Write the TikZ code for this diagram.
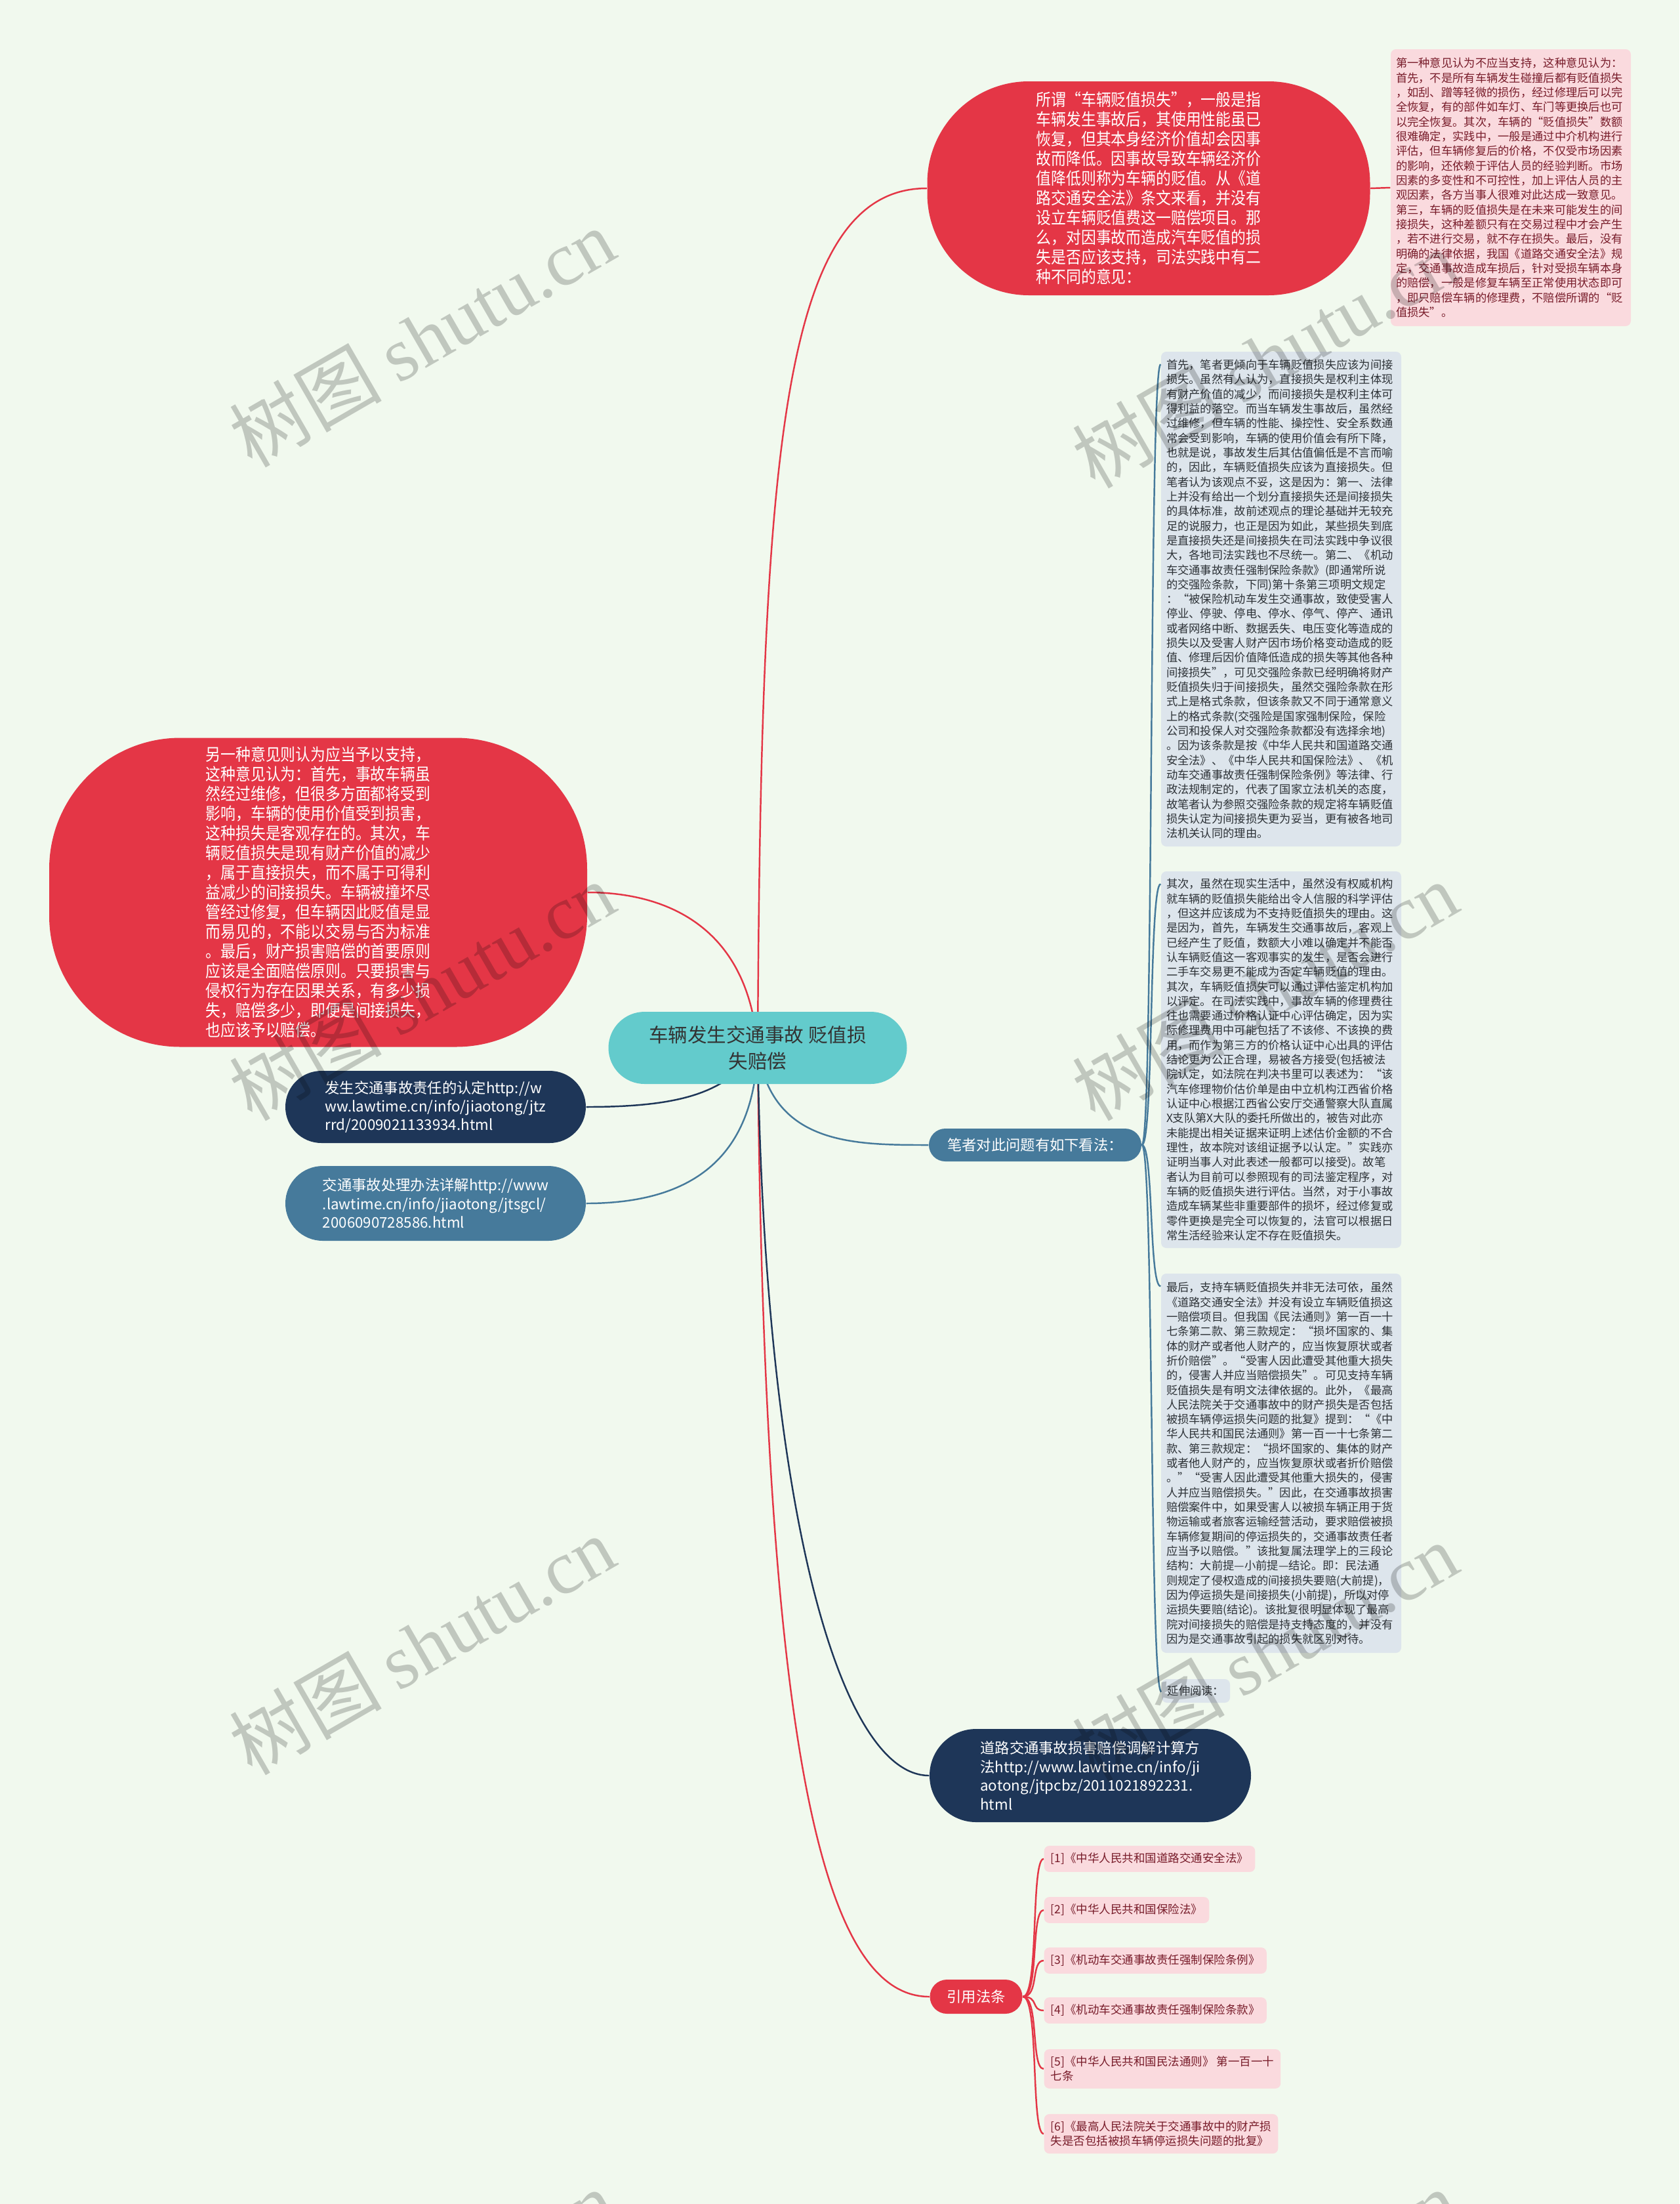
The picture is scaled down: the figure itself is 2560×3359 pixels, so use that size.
\documentclass[tikz,border=0pt]{standalone}
\usepackage{fontspec}
\setmainfont{Noto Sans CJK SC}
\newfontfamily\narrowfont{Noto Sans CJK SC}[FakeStretch=0.89]
\newfontfamily\wmfont{Liberation Serif}
\usetikzlibrary{calc}

\definecolor{bgcol}{RGB}{241,249,238}
\definecolor{mapred}{RGB}{228,54,70}
\definecolor{mapteal}{RGB}{99,203,204}
\definecolor{mapnavy}{RGB}{30,54,88}
\definecolor{mapsteel}{RGB}{70,122,155}
\definecolor{notegrey}{RGB}{221,229,236}
\definecolor{notepink}{RGB}{250,218,222}
\definecolor{pinktext}{RGB}{120,28,42}
\definecolor{greytext}{RGB}{45,50,55}

\pgfdeclarelayer{bg}
\pgfsetlayers{bg,main}

\tikzset{
  bubble/.style={fill=mapred, text=white, align=left, inner sep=0pt,
    font=\narrowfont\fontsize{7.3pt}{8.54pt}\selectfont},
  pill/.style={text=white, align=left, inner sep=0pt,
    font=\fontsize{6.35pt}{8.1pt}\selectfont},
  note/.style={fill=notegrey, text=greytext, rounded corners=0.8mm, align=left,
    inner xsep=0.8mm, inner ysep=0pt, text width=35mm,
    font=\fontsize{4.92pt}{6.35pt}\selectfont},
  lawbox/.style={fill=notepink, text=pinktext, rounded corners=0.8mm, align=left,
    anchor=west, inner xsep=1mm, inner ysep=1.1mm,
    font=\fontsize{4.98pt}{6.2pt}\selectfont},
  link/.style={line width=0.7pt},
  wmark/.style={rotate=30, text=black, opacity=0.2,
    font=\fontsize{33pt}{33pt}\selectfont}
}

\begin{document}
\begin{tikzpicture}[x=0.1mm, y=-0.1mm]
    \useasboundingbox (0,0) rectangle (2560,3359);
    \begin{pgfonlayer}{bg}
      \fill[bgcol] (0,0) rectangle (2560,3359);
    \end{pgfonlayer}

    % Topic
    \node[fill=mapteal, text=black!80, minimum width=45.5mm, minimum height=11mm,
      rounded corners=5.5mm, align=center, inner sep=0pt,
      font=\fontsize{8.4pt}{11.4pt}\selectfont] (topic) at (1155,1597)
      {车辆发生交通事故 贬值损\\失赔偿};

    % First opinion
    \node[bubble, minimum width=67.5mm, minimum height=32.6mm, rounded corners=15.5mm] (opinA) at (1751,287)
      {所谓“车辆贬值损失”，一般是指\\车辆发生事故后，其使用性能虽已\\恢复，但其本身经济价值却会因事\\故而降低。因事故导致车辆经济价\\值降低则称为车辆的贬值。从《道\\路交通安全法》条文来看，并没有\\设立车辆贬值费这一赔偿项目。那\\么，对因事故而造成汽车贬值的损\\失是否应该支持，司法实践中有二\\种不同的意见：};
    \node[note, fill=notepink, text=pinktext, minimum height=42.2mm] (opinAnote) at (2303,286)
      {第一种意见认为不应当支持，这种意见认为：\\首先，不是所有车辆发生碰撞后都有贬值损失\\，如刮、蹭等轻微的损伤，经过修理后可以完\\全恢复，有的部件如车灯、车门等更换后也可\\以完全恢复。其次，车辆的“贬值损失”数额\\很难确定，实践中，一般是通过中介机构进行\\评估，但车辆修复后的价格，不仅受市场因素\\的影响，还依赖于评估人员的经验判断。市场\\因素的多变性和不可控性，加上评估人员的主\\观因素，各方当事人很难对此达成一致意见。\\第三，车辆的贬值损失是在未来可能发生的间\\接损失，这种差额只有在交易过程中才会产生\\，若不进行交易，就不存在损失。最后，没有\\明确的法律依据，我国《道路交通安全法》规\\定，交通事故造成车损后，针对受损车辆本身\\的赔偿，一般是修复车辆至正常使用状态即可\\，即只赔偿车辆的修理费，不赔偿所谓的“贬\\值损失”。};

    % Second opinion
    \node[bubble, minimum width=82mm, minimum height=47.1mm, rounded corners=20mm] (opinB) at (485,1360)
      {另一种意见则认为应当予以支持，\\这种意见认为：首先，事故车辆虽\\然经过维修，但很多方面都将受到\\影响，车辆的使用价值受到损害，\\这种损失是客观存在的。其次，车\\辆贬值损失是现有财产价值的减少\\，属于直接损失，而不属于可得利\\益减少的间接损失。车辆被撞坏尽\\管经过修复，但车辆因此贬值是显\\而易见的，不能以交易与否为标准\\。最后，财产损害赔偿的首要原则\\应该是全面赔偿原则。只要损害与\\侵权行为存在因果关系，有多少损\\失，赔偿多少，即便是间接损失，\\也应该予以赔偿。};

    % Links
    \node[pill, fill=mapnavy, minimum width=45.8mm, minimum height=11mm, rounded corners=5.5mm] (linkA) at (664,1687)
      {发生交通事故责任的认定http://w\\ww.lawtime.cn/info/jiaotong/jtz\\rrd/2009021133934.html};
    \node[pill, fill=mapsteel, minimum width=45.8mm, minimum height=11.4mm, rounded corners=5.7mm] (linkB) at (664,1834)
      {交通事故处理办法详解http://www\\.lawtime.cn/info/jiaotong/jtsgcl/\\2006090728586.html};
    \node[pill, fill=mapnavy, minimum width=49mm, minimum height=14.2mm, rounded corners=7.1mm] (linkC) at (1662,2706)
      {道路交通事故损害赔偿调解计算方\\法http://www.lawtime.cn/info/ji\\aotong/jtpcbz/2011021892231.\\html};

    % Author's view
    \node[pill, fill=mapsteel, minimum width=32.4mm, minimum height=5mm, rounded corners=2.5mm] (view) at (1578,1745)
      {笔者对此问题有如下看法：};
    \node[note, minimum height=75.4mm] (noteA) at (1953,913)
      {首先，笔者更倾向于车辆贬值损失应该为间接\\损失。虽然有人认为，直接损失是权利主体现\\有财产价值的减少，而间接损失是权利主体可\\得利益的落空。而当车辆发生事故后，虽然经\\过维修，但车辆的性能、操控性、安全系数通\\常会受到影响，车辆的使用价值会有所下降，\\也就是说，事故发生后其估值偏低是不言而喻\\的，因此，车辆贬值损失应该为直接损失。但\\笔者认为该观点不妥，这是因为：第一、法律\\上并没有给出一个划分直接损失还是间接损失\\的具体标准，故前述观点的理论基础并无较充\\足的说服力，也正是因为如此，某些损失到底\\是直接损失还是间接损失在司法实践中争议很\\大，各地司法实践也不尽统一。第二、《机动\\车交通事故责任强制保险条款》(即通常所说\\的交强险条款，下同)第十条第三项明文规定\\：“被保险机动车发生交通事故，致使受害人\\停业、停驶、停电、停水、停气、停产、通讯\\或者网络中断、数据丢失、电压变化等造成的\\损失以及受害人财产因市场价格变动造成的贬\\值、修理后因价值降低造成的损失等其他各种\\间接损失”，可见交强险条款已经明确将财产\\贬值损失归于间接损失，虽然交强险条款在形\\式上是格式条款，但该条款又不同于通常意义\\上的格式条款(交强险是国家强制保险，保险\\公司和投保人对交强险条款都没有选择余地)\\。因为该条款是按《中华人民共和国道路交通\\安全法》、《中华人民共和国保险法》、《机\\动车交通事故责任强制保险条例》等法律、行\\政法规制定的，代表了国家立法机关的态度，\\故笔者认为参照交强险条款的规定将车辆贬值\\损失认定为间接损失更为妥当，更有被各地司\\法机关认同的理由。};
    \node[note, minimum height=57.4mm] (noteB) at (1953,1615)
      {其次，虽然在现实生活中，虽然没有权威机构\\就车辆的贬值损失能给出令人信服的科学评估\\，但这并应该成为不支持贬值损失的理由。这\\是因为，首先，车辆发生交通事故后，客观上\\已经产生了贬值，数额大小难以确定并不能否\\认车辆贬值这一客观事实的发生，是否会进行\\二手车交易更不能成为否定车辆贬值的理由。\\其次，车辆贬值损失可以通过评估鉴定机构加\\以评定。在司法实践中，事故车辆的修理费往\\往也需要通过价格认证中心评估确定，因为实\\际修理费用中可能包括了不该修、不该换的费\\用，而作为第三方的价格认证中心出具的评估\\结论更为公正合理，易被各方接受(包括被法\\院认定，如法院在判决书里可以表述为：“该\\汽车修理物价估价单是由中立机构江西省价格\\认证中心根据江西省公安厅交通警察大队直属\\X支队第X大队的委托所做出的，被告对此亦\\未能提出相关证据来证明上述估价金额的不合\\理性，故本院对该组证据予以认定。”实践亦\\证明当事人对此表述一般都可以接受)。故笔\\者认为目前可以参照现有的司法鉴定程序，对\\车辆的贬值损失进行评估。当然，对于小事故\\造成车辆某些非重要部件的损坏，经过修复或\\零件更换是完全可以恢复的，法官可以根据日\\常生活经验来认定不存在贬值损失。};
    \node[note, minimum height=57.8mm] (noteC) at (1953,2230)
      {最后，支持车辆贬值损失并非无法可依，虽然\\《道路交通安全法》并没有设立车辆贬值损这\\一赔偿项目。但我国《民法通则》第一百一十\\七条第二款、第三款规定：“损坏国家的、集\\体的财产或者他人财产的，应当恢复原状或者\\折价赔偿”。“受害人因此遭受其他重大损失\\的，侵害人并应当赔偿损失”。可见支持车辆\\贬值损失是有明文法律依据的。此外，《最高\\人民法院关于交通事故中的财产损失是否包括\\被损车辆停运损失问题的批复》提到：“《中\\华人民共和国民法通则》第一百一十七条第二\\款、第三款规定：“损坏国家的、集体的财产\\或者他人财产的，应当恢复原状或者折价赔偿\\。”“受害人因此遭受其他重大损失的，侵害\\人并应当赔偿损失。”因此，在交通事故损害\\赔偿案件中，如果受害人以被损车辆正用于货\\物运输或者旅客运输经营活动，要求赔偿被损\\车辆修复期间的停运损失的，交通事故责任者\\应当予以赔偿。”该批复属法理学上的三段论\\结构：大前提—小前提—结论。即：民法通\\则规定了侵权造成的间接损失要赔(大前提)，\\因为停运损失是间接损失(小前提)，所以对停\\运损失要赔(结论)。该批复很明显体现了最高\\院对间接损失的赔偿是持支持态度的，并没有\\因为是交通事故引起的损失就区别对待。};
    \node[fill=notegrey, text=greytext, rounded corners=0.8mm, inner sep=0pt, minimum width=10.4mm,
      minimum height=3.6mm, font=\fontsize{4.92pt}{6.35pt}\selectfont] (more) at (1823,2577) {延伸阅读：};

    % Laws
    \node[pill, fill=mapred, minimum width=14.1mm, minimum height=5.2mm, rounded corners=2.6mm] (laws) at (1488,3043) {引用法条};
    \node[lawbox] (law1) at (1591,2833) {[1]《中华人民共和国道路交通安全法》};
    \node[lawbox] (law2) at (1591,2911) {[2]《中华人民共和国保险法》};
    \node[lawbox] (law3) at (1591,2988) {[3]《机动车交通事故责任强制保险条例》};
    \node[lawbox] (law4) at (1591,3064) {[4]《机动车交通事故责任强制保险条款》};
    \node[lawbox] (law5) at (1591,3153) {[5]《中华人民共和国民法通则》 第一百一十\\七条};
    \node[lawbox] (law6) at (1591,3252) {[6]《最高人民法院关于交通事故中的财产损\\失是否包括被损车辆停运损失问题的批复》};

    % Connectors
    \begin{pgfonlayer}{bg}
      \draw[link, mapred] (topic.center) .. controls (1160,700) and (1190,287) .. (opinA.west);
      \draw[link, mapred] (opinA.east) -- (opinAnote.west);
      \draw[link, mapred] (topic.center) .. controls (1140,1400) and (1000,1360) .. (opinB.east);
      \draw[link, mapred] (topic.center) .. controls (1165,2700) and (1260,3043) .. (laws.west);
      \draw[link, mapnavy] (topic.center) .. controls (1110,1665) and (1040,1687) .. (linkA.east);
      \draw[link, mapsteel] (topic.center) .. controls (1150,1760) and (1060,1834) .. (linkB.east);
      \draw[link, mapnavy] (topic.center) .. controls (1165,2300) and (1280,2706) .. (linkC.west);
      \draw[link, mapsteel] (topic.center) .. controls (1175,1745) and (1300,1745) .. (view.west);
      \foreach \n in {noteA,noteB,noteC,more}
        \draw[link, mapsteel] (view.east) .. controls +(18,0) and +(-18,0) .. ($(\n.north west)+(0,20)$);
      \foreach \n in {law1,law2,law3,law4,law5,law6}
        \draw[link, mapred] (laws.east) .. controls +(25,0) and +(-20,0) .. (\n.west);
    \end{pgfonlayer}

    % Watermarks
    \foreach \x/\y in {643/514, 1928/546, 643/1510, 1928/1510, 643/2507, 1928/2517, 643/3503, 1928/3503}
      \node[wmark] at (\x,\y) {树图 {\wmfont shutu.cn}};
\end{tikzpicture}
\end{document}
